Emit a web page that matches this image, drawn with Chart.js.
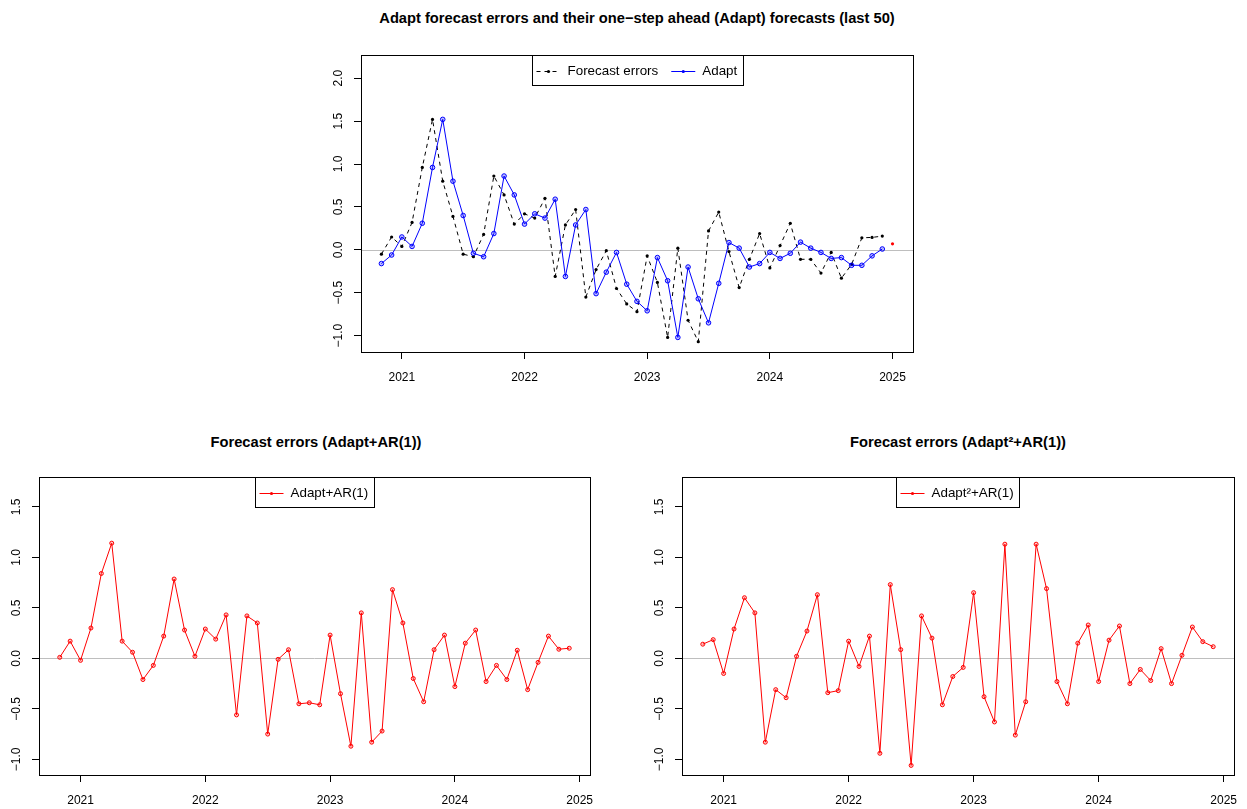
<!DOCTYPE html>
<html>
<head>
<meta charset="utf-8">
<script src="https://cdn.jsdelivr.net/npm/chart.js@4"></script>
<style>
  body { margin: 0; background: #fff; width: 1247px; height: 809px; overflow: hidden; position: relative;
         font-family: "Liberation Sans", Arial, Helvetica, sans-serif; }
  .panel { position: absolute; }
  .title { position: absolute; font-weight: bold; font-size: 14.7px; white-space: nowrap; transform: translate(-50%, -50%); }
</style>
</head>
<body>
<div class="title" style="left:637px;top:18px">Adapt forecast errors and their one−step ahead (Adapt) forecasts (last 50)</div>
<div class="title" style="left:316px;top:442px">Forecast errors (Adapt+AR(1))</div>
<div class="title" style="left:958px;top:442px">Forecast errors (Adapt²+AR(1))</div>

<canvas id="topChart" class="panel" width="640" height="390" style="left:300px;top:0px"></canvas>
<canvas id="leftChart" class="panel" width="595" height="389" style="left:0px;top:420px"></canvas>
<canvas id="rightChart" class="panel" width="625" height="389" style="left:622px;top:420px"></canvas>

<script>
// monthly series, Nov 2020 .. Dec 2024 (last 50)
const startYear = 2020, startMonth = 11;

const forecastErrors = [
  -0.05, 0.15, 0.04, 0.32, 0.96, 1.52, 0.80, 0.39, -0.05, -0.08,
  0.18, 0.86, 0.64, 0.30, 0.42, 0.37, 0.60, -0.31, 0.29, 0.47,
  -0.55, -0.23, -0.01, -0.45, -0.63, -0.72, -0.07, -0.38, -1.02, 0.02,
  -0.82, -1.07, 0.22, 0.44, -0.02, -0.44, -0.11, 0.19, -0.21, 0.05,
  0.31, -0.11, -0.11, -0.27, -0.03, -0.33, -0.17, 0.14, 0.145, 0.16
];
const adaptForecasts = [
  -0.16, -0.06, 0.15, 0.04, 0.31, 0.96, 1.52, 0.80, 0.40, -0.04,
  -0.08, 0.19, 0.86, 0.64, 0.30, 0.42, 0.37, 0.59, -0.31, 0.29,
  0.47, -0.51, -0.26, -0.03, -0.40, -0.60, -0.71, -0.09, -0.36, -1.02,
  -0.20, -0.57, -0.85, -0.39, 0.085, 0.02, -0.20, -0.16, -0.03, -0.10,
  -0.04, 0.09, 0.02, -0.03, -0.10, -0.09, -0.18, -0.18, -0.07, 0.01
];
const nextForecastTime = 2025.0;
const nextForecast = 0.07;

const errorsAdaptAR1 = [
  0.01, 0.17, -0.02, 0.30, 0.84, 1.14, 0.17, 0.06, -0.21, -0.07,
  0.22, 0.785, 0.28, 0.02, 0.29, 0.19, 0.43, -0.56, 0.42, 0.35,
  -0.75, -0.01, 0.085, -0.45, -0.44, -0.46, 0.23, -0.35, -0.87, 0.45,
  -0.83, -0.72, 0.68, 0.35, -0.20, -0.43, 0.085, 0.23, -0.28, 0.15,
  0.28, -0.23, -0.07, -0.21, 0.08, -0.31, -0.04, 0.22, 0.09, 0.10
];
const errorsAdapt2AR1 = [
  0.14, 0.185, -0.15, 0.29, 0.60, 0.45, -0.83, -0.31, -0.39, 0.02,
  0.27, 0.63, -0.34, -0.32, 0.17, -0.08, 0.22, -0.94, 0.73, 0.086,
  -1.06, 0.42, 0.20, -0.46, -0.18, -0.09, 0.65, -0.38, -0.63, 1.13,
  -0.76, -0.43, 1.13, 0.69, -0.23, -0.45, 0.15, 0.33, -0.23, 0.18,
  0.32, -0.25, -0.11, -0.22, 0.096, -0.25, 0.03, 0.31, 0.165, 0.115
];

const yearTicks = [2021, 2022, 2023, 2024, 2025];
const yTicksTop = [-1.0, -0.5, 0.0, 0.5, 1.0, 1.5, 2.0];
const yTicksBottom = [-1.0, -0.5, 0.0, 0.5, 1.0, 1.5];

const FONT = '"Liberation Sans", Arial, Helvetica, sans-serif';
const times = forecastErrors.map((_, i) => startYear + (startMonth - 1 + i) / 12);
const pts = vals => vals.map((v, i) => ({ x: times[i], y: v }));
const fmt = v => v.toFixed(1).replace('-', '−');

// box, zero line, rotated y labels and an R style legend
const rFrame = {
  id: 'rFrame',
  beforeDatasetsDraw(chart) {
    const { ctx, chartArea: a, scales: { y } } = chart;
    const y0 = Math.round(y.getPixelForValue(0)) + 0.5;
    ctx.save();
    ctx.strokeStyle = '#bebebe';
    ctx.lineWidth = 1;
    ctx.beginPath();
    ctx.moveTo(a.left, y0);
    ctx.lineTo(a.right, y0);
    ctx.stroke();
    ctx.restore();
  },
  afterDraw(chart) {
    const { ctx, chartArea: a, scales: { y } } = chart;
    ctx.save();
    ctx.strokeStyle = '#000';
    ctx.lineWidth = 1;
    ctx.strokeRect(Math.round(a.left) + 0.5, Math.round(a.top) + 0.5,
                   Math.round(a.right - a.left), Math.round(a.bottom - a.top));

    ctx.fillStyle = '#000';
    ctx.font = '12px ' + FONT;
    ctx.textAlign = 'center';
    ctx.textBaseline = 'middle';
    y.ticks.forEach(t => {
      ctx.save();
      ctx.translate(a.left - 22, y.getPixelForValue(t.value));
      ctx.rotate(-Math.PI / 2);
      ctx.fillText(fmt(t.value), 0, 0);
      ctx.restore();
    });

    // legend
    const items = chart.data.datasets.filter(ds => ds.inLegend);
    ctx.font = '13.4px ' + FONT;
    const seg = 24, gap = 7, padL = 4, padR = 6, between = 13, h = 30;
    let w = padL + padR;
    items.forEach((ds, i) => {
      w += seg + gap + ctx.measureText(ds.label).width + (i > 0 ? between : 0);
    });
    const x0 = Math.round((a.left + a.right) / 2 - w / 2) + 0.5;
    const top = Math.round(a.top) + 0.5;
    ctx.fillStyle = '#fff';
    ctx.fillRect(x0, top, w, h);
    ctx.strokeStyle = '#000';
    ctx.strokeRect(x0, top, Math.round(w), h);
    const my = top + h / 2;
    let x = x0 + padL;
    items.forEach((ds, i) => {
      if (i > 0) x += between;
      ctx.strokeStyle = ds.borderColor;
      ctx.setLineDash(ds.borderDash || []);
      ctx.beginPath();
      ctx.moveTo(x, Math.round(my) + 0.5);
      ctx.lineTo(x + seg, Math.round(my) + 0.5);
      ctx.stroke();
      ctx.setLineDash([]);
      ctx.fillStyle = ds.borderColor;
      ctx.beginPath();
      ctx.arc(x + seg / 2, Math.round(my) + 0.5, 1.6, 0, Math.PI * 2);
      ctx.fill();
      x += seg + gap;
      ctx.fillStyle = '#000';
      ctx.textAlign = 'left';
      ctx.fillText(ds.label, x, my + 1);
      x += ctx.measureText(ds.label).width;
    });
    ctx.restore();
  }
};

function makeScales(xmin, xmax, ymin, ymax, yTicks, yWidth, xHeight) {
  return {
    x: {
      type: 'linear', min: xmin, max: xmax,
      afterBuildTicks: s => { s.ticks = yearTicks.map(v => ({ value: v })); },
      afterFit: s => { s.height = xHeight; s.paddingLeft = 0; s.paddingRight = 0; },
      grid: { drawOnChartArea: false, drawTicks: true, tickLength: 7, color: '#000', tickColor: '#000', lineWidth: 1 },
      border: { display: false },
      ticks: { autoSkip: false, maxRotation: 0, padding: 11, color: '#000',
               font: { size: 12, family: FONT }, callback: v => String(v) }
    },
    y: {
      type: 'linear', min: ymin, max: ymax,
      afterBuildTicks: s => { s.ticks = yTicks.map(v => ({ value: v })); },
      afterFit: s => { s.width = yWidth; s.paddingTop = 0; s.paddingBottom = 0; },
      grid: { drawOnChartArea: false, drawTicks: true, tickLength: 7, color: '#000', tickColor: '#000', lineWidth: 1 },
      border: { display: false },
      ticks: { display: false }
    }
  };
}

function baseOptions(scales, padding) {
  return {
    responsive: false,
    animation: false,
    layout: { padding: padding },
    plugins: { legend: { display: false }, tooltip: { enabled: false } },
    scales: scales
  };
}

// top panel
new Chart(document.getElementById('topChart'), {
  type: 'line',
  data: {
    datasets: [
      { label: 'Forecast errors', inLegend: true, order: 2, data: pts(forecastErrors),
        borderColor: '#000', borderWidth: 1, borderDash: [4, 4],
        pointRadius: 1.6, pointBackgroundColor: '#000', pointBorderWidth: 0, tension: 0 },
      { label: 'Adapt', inLegend: true, order: 1, data: pts(adaptForecasts),
        borderColor: '#0000ff', borderWidth: 1,
        pointRadius: 2.3, pointBackgroundColor: 'rgba(0,0,255,0.25)', pointBorderColor: '#0000ff',
        pointBorderWidth: 1, tension: 0 },
      { label: 'next', order: 0, data: [{ x: nextForecastTime, y: nextForecast }], showLine: false,
        pointRadius: 1.6, pointBackgroundColor: '#ff0000', pointBorderWidth: 0, borderColor: '#ff0000' }
    ]
  },
  options: baseOptions(makeScales(2020.667, 2025.167, -1.19, 2.27, yTicksTop, 61, 38),
                       { top: 55, right: 27, left: 0, bottom: 0 }),
  plugins: [rFrame]
});

function redPanel(id, label, vals, yWidth, right) {
  new Chart(document.getElementById(id), {
    type: 'line',
    data: {
      datasets: [
        { label: label, inLegend: true, data: pts(vals),
          borderColor: '#ff0000', borderWidth: 1,
          pointRadius: 2, pointBackgroundColor: 'rgba(255,0,0,0.2)', pointBorderColor: '#ff0000',
          pointBorderWidth: 1, tension: 0 }
      ]
    },
    options: baseOptions(makeScales(2020.667, 2025.083, -1.155, 1.795, yTicksBottom, yWidth, 34),
                         { top: 57, right: right, left: 0, bottom: 0 }),
    plugins: [rFrame]
  });
}

redPanel('leftChart', 'Adapt+AR(1)', errorsAdaptAR1, 39, 3);
redPanel('rightChart', 'Adapt²+AR(1)', errorsAdapt2AR1, 60, 13);
</script>
</body>
</html>
